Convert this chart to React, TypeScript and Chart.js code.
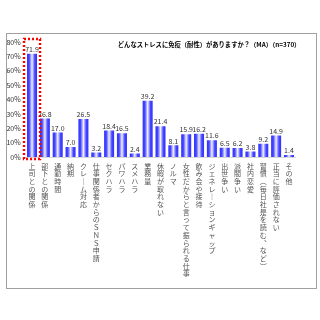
import React, { useEffect, useRef } from "react";
import { Chart, registerables } from "chart.js";

Chart.register(...registerables);

const categories: string[] = [
  "上司との関係",
  "部下との関係",
  "通勤時間",
  "納期",
  "クレーム対応",
  "仕事関係者からのＳＮＳ申請",
  "セクハラ",
  "パワハラ",
  "スメハラ",
  "業務量",
  "休暇が取れない",
  "ノルマ",
  "女性だからと言って振られる仕事",
  "飲み会や接待",
  "ジェネレーションギャップ",
  "出世争い",
  "派閥争い",
  "社内恋愛",
  "習慣（毎日社是を読む、など）",
  "正当に評価されない",
  "その他",
];

const values: number[] = [
  71.9, 26.8, 17.0, 7.0, 26.5, 3.2, 18.4, 16.5, 2.4, 39.2, 21.4, 8.1, 15.9,
  16.2, 11.6, 6.5, 6.2, 3.8, 9.2, 14.9, 1.4,
];

const yTicks: number[] = [0, 10, 20, 30, 40, 50, 60, 70, 80];

const titleText = "どんなストレスに免疫（耐性）がありますか？（MA）（n=370）";
const highlightIndex = 0;
const BAR_PCT = 0.78;

const verticalMap: Record<string, string> = {
  "ー": "｜",
  "（": "︵",
  "）": "︶",
  "、": "︑",
};

const toVertical = (s: string): string[] =>
  Array.from(s).map((c) => verticalMap[c] ?? c);

const FONT = "'Noto Sans CJK JP', 'Noto Sans', sans-serif";

export default function App() {
  const ref = useRef<HTMLCanvasElement | null>(null);

  useEffect(() => {
    if (!ref.current) return;

    const decor = {
      id: "decor",
      afterDatasetsDraw(chart: any) {
        const ctx = chart.ctx;
        const meta = chart.getDatasetMeta(0);
        const area = chart.chartArea;
        ctx.save();
        ctx.font = `7px ${FONT}`;
        ctx.fillStyle = "#333";
        ctx.textAlign = "center";
        ctx.textBaseline = "bottom";
        meta.data.forEach((el: any, i: number) => {
          ctx.fillText(values[i].toFixed(1), el.x, el.y - 1);
        });
        // highlight box
        const h = meta.data[highlightIndex] as any;
        const hw = h.width / 2 + 3;
        ctx.strokeStyle = "#ff0000";
        ctx.lineWidth = 2.4;
        ctx.setLineDash([2, 2]);
        ctx.strokeRect(h.x - hw, area.top - 3, hw * 2, area.bottom - area.top + 5);
        ctx.setLineDash([]);
        // title
        ctx.font = `bold 6.3px ${FONT}`;
        ctx.fillStyle = "#000";
        ctx.textAlign = "right";
        ctx.textBaseline = "middle";
        ctx.fillText(titleText, area.right + 5, area.top + 3);
        ctx.restore();
      },
    };

    const barFill = (c: any) => {
      const chart = c.chart;
      const xs = chart.scales?.x;
      if (!xs || c.type !== "data" || !chart.ctx) return "#4040ff";
      const cx = xs.getPixelForValue(c.dataIndex);
      const w = (xs.width / categories.length) * BAR_PCT;
      if (!Number.isFinite(cx) || !Number.isFinite(w) || w <= 0) return "#4040ff";
      const g = chart.ctx.createLinearGradient(cx - w / 2, 0, cx + w / 2, 0);
      g.addColorStop(0, "#3030ff");
      g.addColorStop(0.22, "#4646ff");
      g.addColorStop(0.5, "#f2f2ff");
      g.addColorStop(0.78, "#4646ff");
      g.addColorStop(1, "#3030ff");
      return g;
    };

    const chart = new Chart(ref.current, {
      type: "bar",
      data: {
        labels: categories.map(toVertical),
        datasets: [
          {
            data: values,
            backgroundColor: barFill,
            borderWidth: 0,
            barPercentage: BAR_PCT,
            categoryPercentage: 1,
          },
        ],
      },
      options: {
        animation: false,
        responsive: false,
        maintainAspectRatio: false,
        events: [],
        layout: { padding: { left: 0, right: 24.6, top: 42, bottom: 0 } },
        plugins: {
          legend: { display: false },
          title: { display: false },
          tooltip: { enabled: false },
        },
        scales: {
          x: {
            grid: { display: false, drawTicks: false },
            border: { display: true, color: "#d8d8d8", width: 1 },
            ticks: {
              autoSkip: false,
              maxRotation: 0,
              minRotation: 0,
              padding: 5,
              color: "#555",
              font: { size: 7, family: FONT, lineHeight: 1.1 },
            },
            afterFit: (s: any) => {
              s.height = 163;
            },
          },
          y: {
            min: 0,
            max: 80,
            grid: { display: false, drawTicks: false },
            border: { display: false },
            afterBuildTicks: (s: any) => {
              s.ticks = yTicks.map((v) => ({ value: v }));
            },
            ticks: {
              padding: 5,
              color: "#333",
              font: { size: 7, family: FONT },
              callback: (v: any) => `${v}%`,
            },
            afterFit: (s: any) => {
              s.width = 25.6;
            },
          },
        },
      },
      plugins: [decor],
    });

    return () => chart.destroy();
  }, []);

  return (
    <div
      style={{
        position: "fixed",
        left: 0,
        top: 0,
        width: 320,
        height: 320,
        background: "#fff",
      }}
    >
      <div
        style={{
          position: "absolute",
          left: 6,
          top: 33,
          width: 309,
          height: 254,
          border: "1px solid #a0a0a0",
        }}
      />
      <canvas
        ref={ref}
        width={320}
        height={320}
        style={{ position: "absolute", left: 0, top: 0, width: 320, height: 320 }}
      />
    </div>
  );
}
